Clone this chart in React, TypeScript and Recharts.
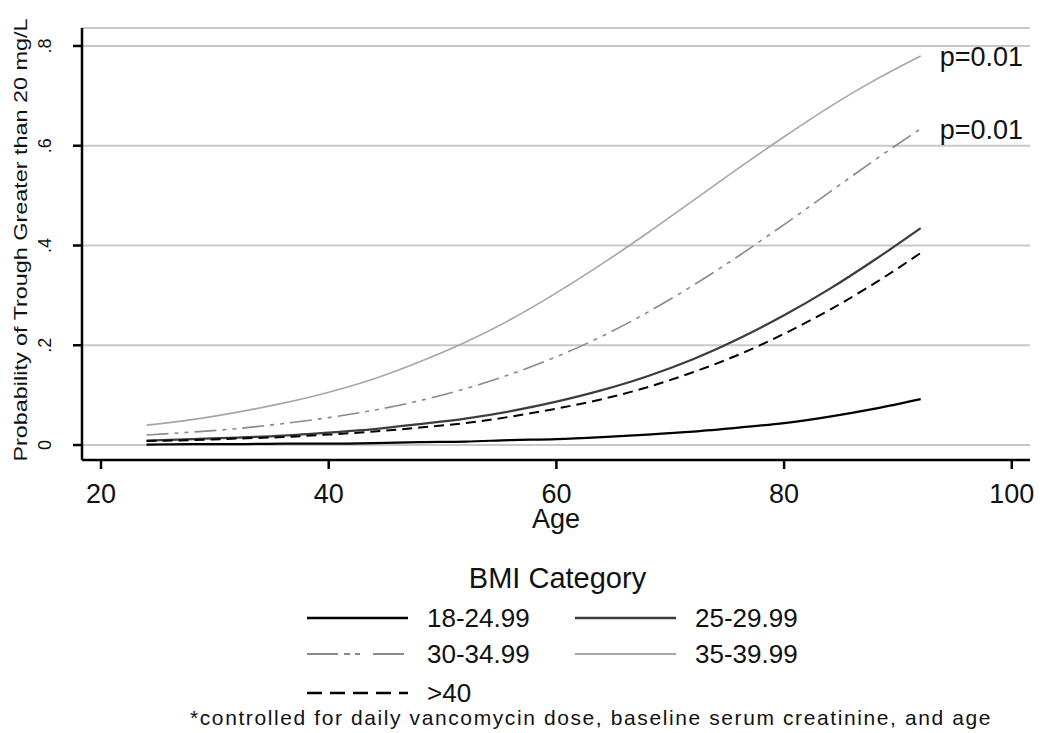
import React from "react";
import {
  LineChart, Line, XAxis, YAxis, CartesianGrid,
} from "recharts";

// ages at which the fitted curves were read
const ages = [24, 28, 32, 36, 40, 44, 48, 52, 56, 60, 64, 68, 72, 76, 80, 84, 88, 92];

const bmi18 = [0.001, 0.002, 0.002, 0.003, 0.003, 0.004, 0.006, 0.007, 0.010, 0.012, 0.016, 0.021, 0.027, 0.035, 0.044, 0.057, 0.073, 0.092];
const bmi25 = [0.009, 0.012, 0.015, 0.019, 0.025, 0.032, 0.042, 0.053, 0.068, 0.087, 0.110, 0.138, 0.172, 0.213, 0.260, 0.313, 0.372, 0.435];
const bmi30 = [0.020, 0.026, 0.033, 0.043, 0.055, 0.070, 0.089, 0.113, 0.142, 0.177, 0.218, 0.266, 0.320, 0.379, 0.442, 0.507, 0.572, 0.634];
const bmi35 = [0.040, 0.051, 0.066, 0.084, 0.106, 0.133, 0.167, 0.206, 0.252, 0.305, 0.363, 0.425, 0.490, 0.555, 0.618, 0.678, 0.732, 0.780];
const bmi40 = [0.008, 0.010, 0.013, 0.016, 0.021, 0.027, 0.035, 0.044, 0.057, 0.073, 0.092, 0.116, 0.146, 0.181, 0.223, 0.271, 0.325, 0.385];

const xTicks = [20, 40, 60, 80, 100];
const yTicks = [0, 0.2, 0.4, 0.6, 0.8];
const pLabel = "p=0.01";

const series = [
  { key: "b18", name: "18-24.99", values: bmi18, color: "#000000", width: 2.2, dash: undefined, legendDash: undefined, pval: false },
  { key: "b25", name: "25-29.99", values: bmi25, color: "#3c3c3c", width: 2.2, dash: undefined, legendDash: undefined, pval: false },
  { key: "b30", name: "30-34.99", values: bmi30, color: "#8a8a8a", width: 1.6, dash: "22 6 4 6 4 6", legendDash: "31 6 6 5 5 13", pval: true },
  { key: "b35", name: "35-39.99", values: bmi35, color: "#a6a6a6", width: 1.6, dash: undefined, legendDash: undefined, pval: true },
  { key: "b40", name: ">40", values: bmi40, color: "#000000", width: 2, dash: "10 6", legendDash: "15 8", pval: false },
];

const chartData = ages.map((age, i) => {
  const row: Record<string, number> = { age };
  series.forEach((s) => { row[s.key] = s.values[i]; });
  return row;
});

const FONT = "'Liberation Sans', Arial, sans-serif";

const YTick = ({ x, y, payload }: any) => {
  const label = payload.value === 0 ? "0" : String(payload.value).replace(/^0/, "");
  const bx = x - 22;
  return (
    <text x={bx} y={y} transform={`rotate(-90, ${bx}, ${y})`} textAnchor="middle"
      fontSize={18} fontFamily={FONT} fill="#111">
      {label}
    </text>
  );
};

const endLabel = (props: any) => {
  const { x, y, index } = props;
  if (index !== ages.length - 1) return null;
  return (
    <text x={x + 19} y={y + 10} fontSize={27} fontFamily={FONT} fill="#111">{pLabel}</text>
  );
};

const LegendSample = ({ color, width, dash }: { color: string; width: number; dash?: string }) => (
  <svg width={101} height={10} style={{ display: "block" }}>
    <line x1={0} y1={5} x2={101} y2={5} stroke={color} strokeWidth={width + 0.5} strokeDasharray={dash} />
  </svg>
);

export default function App() {
  const cell = (s: typeof series[number], left: number, top: number) => (
    <div key={s.key} style={{ position: "absolute", left, top, height: 30, display: "flex", alignItems: "center" }}>
      <LegendSample color={s.color} width={s.width} dash={s.legendDash} />
      <span style={{ marginLeft: 19, fontSize: 26, lineHeight: "30px" }}>{s.name}</span>
    </div>
  );

  return (
    <div style={{ position: "absolute", left: 0, top: 0, width: 1050, height: 733, background: "#fff", fontFamily: FONT, color: "#111" }}>
      <LineChart width={1050} height={733} data={chartData}
        margin={{ top: 28, right: 20, left: 10, bottom: 213 }}>
        <CartesianGrid horizontal vertical={false} stroke="#c8c8c8" strokeWidth={2} />
        <XAxis dataKey="age" type="number" domain={[18.33, 101.6]} ticks={xTicks}
          allowDataOverflow height={60} tickSize={9} tickMargin={15}
          axisLine={{ stroke: "#000", strokeWidth: 2.5 }} tickLine={{ stroke: "#000", strokeWidth: 2.5 }}
          tick={{ fontSize: 27, fill: "#111", fontFamily: FONT }}
          label={{ value: "Age", position: "insideBottom", offset: -8, fontSize: 27, fill: "#111", fontFamily: FONT }} />
        <YAxis type="number" domain={[-0.03, 0.836]} ticks={yTicks} allowDataOverflow width={72}
          tickSize={9} tickMargin={0}
          axisLine={{ stroke: "#000", strokeWidth: 2.5 }} tickLine={{ stroke: "#000", strokeWidth: 2.5 }}
          tick={<YTick />} />
        {series.map((s) => (
          <Line key={s.key} dataKey={s.key} type="monotone" stroke={s.color} strokeWidth={s.width}
            strokeDasharray={s.dash} dot={false} isAnimationActive={false}
            label={s.pval ? endLabel : false} />
        ))}
      </LineChart>

      <div style={{ position: "absolute", left: 21, top: 240, width: 0, height: 0 }}>
        <div style={{ position: "absolute", left: 0, top: 0, transform: "translate(-50%, -50%) rotate(-90deg) scaleX(1.23)", whiteSpace: "nowrap", fontSize: 19 }}>
          Probability of Trough Greater than 20 mg/L
        </div>
      </div>

      <div style={{ position: "absolute", left: 0, width: 1115, top: 562, textAlign: "center", fontSize: 29 }}>BMI Category</div>
      {cell(series[0], 307, 603)}
      {cell(series[1], 575, 603)}
      {cell(series[2], 307, 639)}
      {cell(series[3], 575, 639)}
      {cell(series[4], 307, 678)}
      <div style={{ position: "absolute", left: 0, width: 1182, top: 706, textAlign: "center", fontSize: 21, letterSpacing: "1.6px" }}>
        *controlled for daily vancomycin dose, baseline serum creatinine, and age
      </div>
    </div>
  );
}
